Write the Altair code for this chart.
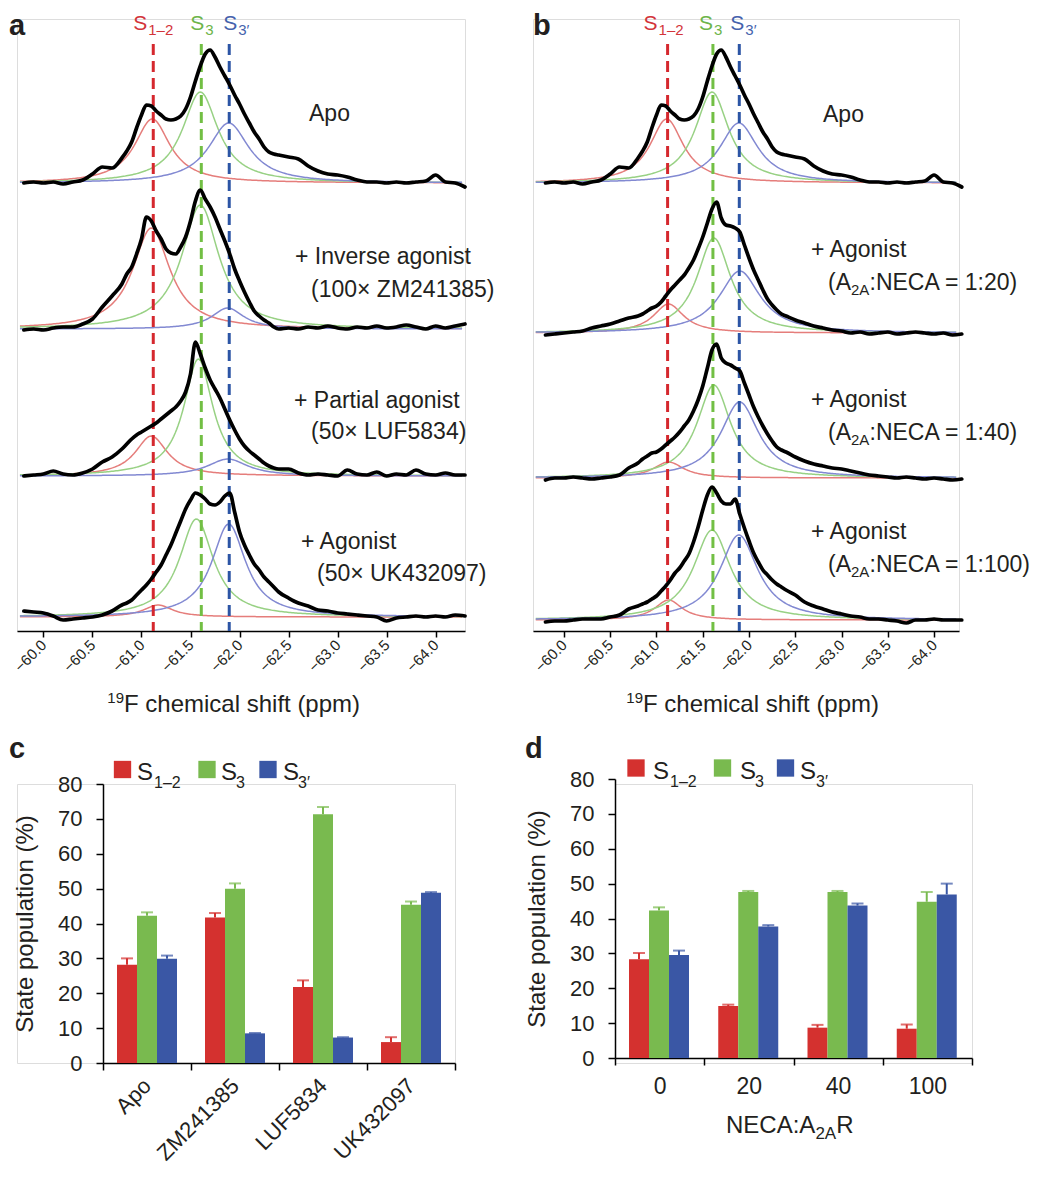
import altair as alt
import numpy as np
import pandas as pd

FONT = "Liberation Sans"
INK = "#231f20"

# ---------------- chemical-shift grid (ppm) at which the black spectra were read ----------------
ppm = [-59.8, -59.9, -60.0, -60.1, -60.2, -60.3, -60.4, -60.5, -60.6, -60.7,
       -60.8, -60.85, -60.9, -60.95, -61.0, -61.05, -61.1, -61.15, -61.2, -61.25,
       -61.3, -61.35, -61.4, -61.45, -61.5, -61.55, -61.6, -61.65, -61.7, -61.75,
       -61.8, -61.85, -61.9, -61.95, -62.0, -62.05, -62.1, -62.15, -62.2, -62.25,
       -62.3, -62.35, -62.4, -62.5, -62.6, -62.7, -62.8, -62.9, -63.0, -63.1,
       -63.2, -63.3, -63.4, -63.5, -63.6, -63.7, -63.8, -63.9, -64.0, -64.1,
       -64.2, -64.3]

# ---------------- black spectra: height above their own baseline ----------------
spec_apo = [0, 1, 0, 1, -1, 1, 3, 9, 16, 15,
            25, 32, 41, 55, 68, 78, 77, 72, 68, 64,
            63, 64, 67, 74, 86, 102, 117, 129, 133, 126,
            116, 107, 98, 88, 79, 69, 60, 51, 44, 36,
            31, 29, 28, 26, 24, 17, 12, 9, 8, 6,
            3, 1, 1, 0, 1, 0, 1, 2, 8, 1,
            0, -4]
spec_zm = [-1, 0, -1, 1, 2, 2, 5, 10, 22, 33,
           45, 55, 62, 75, 90, 112, 108, 98, 90, 80,
           76, 75, 82, 92, 108, 128, 139, 130, 122, 112,
           100, 88, 75, 60, 48, 37, 27, 18, 13, 9,
           6, 2, 0, 1, 0, 2, 1, 3, 1, 0,
           2, 1, 3, 1, 2, 4, 2, 0, 3, 1,
           3, 5]
spec_luf = [0, 1, 2, 5, 2, 1, 3, 7, 14, 19,
            27, 32, 37, 41, 44, 47, 50, 53, 57, 61,
            65, 69, 75, 84, 102, 134, 122, 108, 96, 87,
            78, 67, 56, 46, 37, 30, 25, 21, 17, 13,
            10, 8, 7, 7, 3, 1, 2, 1, 0, 6,
            2, 1, 4, 0, 2, 1, 6, 2, 1, 3,
            1, 1]
spec_uk = [6, 5, 4, 1, -3, -2, -1, 0, 2, 6,
           12, 14, 17, 22, 27, 32, 38, 45, 52, 62,
           72, 84, 96, 108, 117, 124, 122, 118, 113, 112,
           115, 121, 124, 105, 85, 72, 62, 53, 47, 40,
           35, 30, 25, 19, 14, 11, 7, 6, 4, 3,
           2, 1, 0, -4, -1, 0, 1, 0, 1, 0,
           2, 1]
spec_neca20 = [-2, -1, 0, 1, 2, 5, 7, 9, 12, 15,
               17, 19, 22, 25, 27, 31, 37, 43, 48, 53,
               58, 65, 73, 84, 96, 110, 124, 131, 115, 108,
               107, 105, 101, 88, 75, 63, 53, 43, 34, 28,
               23, 19, 17, 13, 10, 7, 5, 3, 2, 0,
               1, -1, 0, 1, -1, 0, 1, 0, -1, 0,
               -2, -1]
spec_neca40 = [-2, 0, 0, 1, 0, -1, 0, 1, 3, 10,
               15, 19, 22, 25, 26, 29, 33, 37, 41, 46,
               52, 58, 67, 78, 92, 110, 128, 134, 120, 115,
               113, 110, 107, 95, 83, 71, 61, 52, 44, 37,
               31, 28, 26, 21, 17, 14, 12, 10, 9, 7,
               5, 3, 2, 1, 0, 1, 0, -1, 0, -1,
               -2, -1]
spec_neca100 = [-2, -1, -1, 0, 1, 1, 1, 3, 5, 11,
                14, 16, 18, 21, 24, 29, 34, 40, 47, 52,
                59, 66, 78, 93, 110, 125, 133, 127, 119, 116,
                116, 121, 106, 92, 79, 67, 58, 50, 45, 40,
                36, 33, 30, 25, 18, 14, 11, 8, 6, 4,
                3, 1, 1, 0, -1, -3, 0, 0, 1, 0,
                0, 0]

# ---------------- Lorentzian fit components ----------------
# (centre ppm, peak height, half-width ppm) for S1-2, S3, S3'
fit_apo = [(-61.11, 64, 0.22), (-61.60, 91, 0.22), (-61.89, 60, 0.25)]
fit_zm = [(-61.10, 101, 0.23), (-61.60, 124, 0.23), (-61.88, 21, 0.20)]
fit_luf = [(-61.10, 40, 0.20), (-61.58, 117, 0.18), (-61.88, 17, 0.25)]
fit_uk = [(-61.17, 12, 0.18), (-61.56, 98, 0.21), (-61.89, 93, 0.21)]
fit_neca20 = [(-61.13, 29, 0.20), (-61.62, 95, 0.22), (-61.90, 62, 0.27)]
fit_neca40 = [(-61.13, 16, 0.20), (-61.62, 93, 0.22), (-61.90, 76, 0.25)]
fit_neca100 = [(-61.13, 20, 0.18), (-61.60, 90, 0.24), (-61.89, 85, 0.25)]

# ---------------- states ----------------
state_keys = ["S12", "S3", "S3p"]
state_shift = [-61.12, -61.61, -61.895]
state_sub = ["1–2", "3", "3′"]
state_names = ["S1–2", "S3", "S3′"]
ticks_ppm = [-60.0, -60.5, -61.0, -61.5, -62.0, -62.5, -63.0, -63.5, -64.0]

# ---------------- bar data (panel c) ----------------
groups_c = ["Apo", "ZM241385", "LUF5834", "UK432097"]
c_s12 = [28.2, 41.7, 21.8, 6.0]
c_s12_err = [1.8, 1.3, 1.9, 1.4]
c_s3 = [42.2, 50.0, 71.3, 45.4]
c_s3_err = [1.0, 1.5, 2.1, 0.9]
c_s3p = [29.9, 8.5, 7.3, 48.8]
c_s3p_err = [0.9, 0.1, 0.1, 0.2]

# ---------------- bar data (panel d) ----------------
groups_d = ["0", "20", "40", "100"]
d_s12 = [28.3, 14.9, 8.7, 8.4]
d_s12_err = [1.8, 0.4, 0.8, 1.2]
d_s3 = [42.3, 47.6, 47.6, 44.8]
d_s3_err = [0.9, 0.3, 0.3, 2.8]
d_s3p = [29.5, 37.7, 43.7, 46.9]
d_s3p_err = [1.3, 0.4, 0.6, 3.1]

# ---------------- styles ----------------
FIT_COL = {"S12": "#e57d7b", "S3": "#98d184", "S3p": "#8289d2"}
DASH_COL = {"S12": "#d5282e", "S3": "#72bf44", "S3p": "#2c55a5"}
LBL_COL = {"S12": "#d3343a", "S3": "#6db54a", "S3p": "#4562ad"}
BAR_COL = ["#d4312f", "#79ba4f", "#3a57a5"]

SPEC_H = 612
BAR_H = 279
ONE = pd.DataFrame({"k": [0]})


def text_layer(s, x, y, size, color=INK, align="left", weight="normal"):
    return alt.Chart(ONE).mark_text(
        text=s, font=FONT, fontSize=size, color=color, align=align,
        baseline="alphabetic", fontWeight=weight
    ).encode(x=alt.value(x), y=alt.value(y))


def square_layer(cx, cy, color):
    return alt.Chart(ONE).mark_square(size=300, color=color, opacity=1).encode(
        x=alt.value(cx), y=alt.value(cy))


def spec_axis():
    return alt.Axis(values=ticks_ppm,
                    labelExpr="replace(format(datum.value, '.1f'), '-', '–')",
                    labelAngle=-45, labelAlign="right", labelBaseline="middle",
                    labelFont=FONT, labelFontSize=15, labelColor=INK, labelPadding=5,
                    labelOverlap=False, labelFlush=False,
                    tickSize=6, tickWidth=1.5, tickColor="black",
                    domainColor="black", domainWidth=1.5, grid=False, title=None)


def spectrum_panel(width, dom, spectra, fits, offsets, s_dx, letter, letter_x, notes, title_x):
    xsc = alt.Scale(domain=dom, reverse=True, nice=False, zero=False)
    ysc = alt.Scale(domain=[0, SPEC_H], nice=False, zero=False)
    X = alt.X("ppm:Q", scale=xsc, axis=spec_axis())
    Y = alt.Y("y:Q", scale=ysc, axis=None)
    layers = []
    grid = np.linspace(dom[1] - 0.03, dom[0] + 0.03, 300)
    for k, key in enumerate(state_keys):
        rows = []
        for j, (fit, off) in enumerate(zip(fits, offsets)):
            c, h, w = fit[k]
            for g in grid:
                rows.append({"ppm": float(g), "y": off + h / (1 + ((g - c) / w) ** 2), "spec": j})
        layers.append(alt.Chart(pd.DataFrame(rows)).mark_line(
            color=FIT_COL[key], strokeWidth=1.5).encode(
            x=X, y=Y, detail="spec:N", order=alt.Order("ppm:Q", sort="descending")))
    for k, key in enumerate(state_keys):
        d = pd.DataFrame({"ppm": [state_shift[k]]})
        layers.append(alt.Chart(d).mark_rule(
            color=DASH_COL[key], strokeWidth=3, strokeDash=[11, 6]).encode(
            x=X, y=alt.value(25), y2=alt.value(SPEC_H)))
    rows = []
    for j, (vals, off) in enumerate(zip(spectra, offsets)):
        for p, v in zip(ppm, vals):
            rows.append({"ppm": p, "y": off + v, "spec": j})
    layers.append(alt.Chart(pd.DataFrame(rows)).mark_line(
        color="black", strokeWidth=3.7, interpolate="monotone",
        strokeJoin="round", strokeCap="round").encode(
        x=X, y=Y, detail="spec:N", order=alt.Order("ppm:Q", sort="descending")))
    for k, key in enumerate(state_keys):
        d = pd.DataFrame({"ppm": [state_shift[k]]})
        layers.append(alt.Chart(d).mark_text(
            text="S", font=FONT, fontSize=21, color=LBL_COL[key], align="right",
            baseline="alphabetic", dx=s_dx[k]).encode(x=X, y=alt.value(10.5)))
        layers.append(alt.Chart(d).mark_text(
            text=state_sub[k], font=FONT, fontSize=15, color=LBL_COL[key], align="left",
            baseline="alphabetic", dx=s_dx[k] + 1).encode(x=X, y=alt.value(15.5)))
    for n in notes:
        layers.append(text_layer(*n))
    layers.append(text_layer(letter, letter_x, 15.5, 29, weight="bold"))
    layers.append(text_layer("19", title_x, 684, 15, align="right"))
    layers.append(text_layer("F chemical shift (ppm)", title_x, 693, 24))
    return alt.layer(*layers).properties(width=width, height=SPEC_H)


panel_a = spectrum_panel(
    448, [-64.30, -59.73],
    [spec_apo, spec_zm, spec_luf, spec_uk],
    [fit_apo, fit_zm, fit_luf, fit_uk],
    [448, 302, 155, 14], [-6, 3, 8], "a", -8,
    [("Apo", 292, 102, 23),
     ("+ Inverse agonist", 278, 245, 23),
     ("(100× ZM241385)", 294, 278, 23),
     ("+ Partial agonist", 277, 389, 23),
     ("(50× LUF5834)", 294, 420, 23),
     ("+ Agonist", 284, 530, 23),
     ("(50× UK432097)", 300, 562, 23)],
    107)

b_notes = [("Apo", 290, 103, 23)]
for yy, ratio in [(238, "1:20"), (388, "1:40"), (520, "1:100")]:
    b_notes.append(("+ Agonist", 278, yy, 23))
    b_notes.append(("(A", 295, yy + 33, 23))
    b_notes.append(("2A", 318, yy + 38, 15))
    b_notes.append((":NECA = " + ratio + ")", 336.5, yy + 33, 23))

panel_b = spectrum_panel(
    426, [-64.27, -59.665],
    [spec_apo, spec_neca20, spec_neca40, spec_neca100],
    [fit_apo, fit_neca20, fit_neca40, fit_neca100],
    [448, 298, 153, 11], [-10, 0, 5], "b", 0,
    b_notes, 110)


def bar_panel(groups, s12, s12e, s3, s3e, s3p, s3pe, width, x_axis, x_range, y_offset,
              y_shift, letter_xy, legend_spec, extra):
    rows = []
    for i, g in enumerate(groups):
        for st, v, e in zip(state_names, [s12[i], s3[i], s3p[i]], [s12e[i], s3e[i], s3pe[i]]):
            rows.append({"group": g, "state": st, "v": v, "top": v + e})
    df = pd.DataFrame(rows)
    if x_range is None:
        xscale = alt.Scale(paddingInner=0, paddingOuter=0)
    else:
        xscale = alt.Scale(paddingInner=0, paddingOuter=0, range=x_range)
    X = alt.X("group:N", sort=groups, scale=xscale, axis=x_axis)
    XO = alt.XOffset("state:N", sort=state_names, scale=alt.Scale(paddingInner=0, paddingOuter=0.7))
    ysc = alt.Scale(domain=[0, 80], nice=False, range=[BAR_H - y_shift, -y_shift])
    y_axis = alt.Axis(values=[0, 10, 20, 30, 40, 50, 60, 70, 80], title="State population (%)",
                      titleFont=FONT, titleFontSize=24, titleFontWeight="normal", titleColor=INK,
                      titlePadding=20, labelFont=FONT, labelFontSize=22, labelColor=INK,
                      labelPadding=14, tickSize=7, tickWidth=1.5, tickColor="black",
                      domainColor="black", domainWidth=1.5, grid=False, offset=y_offset)
    color = alt.Color("state:N", sort=state_names,
                      scale=alt.Scale(domain=state_names, range=BAR_COL), legend=None)
    layers = [alt.Chart(df).mark_bar().encode(
        x=X, xOffset=XO, y=alt.Y("v:Q", scale=ysc, axis=y_axis), color=color)]
    for st, col in zip(state_names, BAR_COL):
        sub = df[df["state"] == st]
        layers.append(alt.Chart(sub).mark_rule(color=col, strokeWidth=2).encode(
            x=X, xOffset=XO, y=alt.Y("v:Q", scale=ysc, axis=y_axis), y2="top:Q"))
        layers.append(alt.Chart(sub).mark_tick(color=col, orient="horizontal", size=12, thickness=2).encode(
            x=X, xOffset=XO, y=alt.Y("top:Q", scale=ysc, axis=y_axis)))
    # legend: coloured squares with "S" and subscript labels
    sq_y, s_base, sub_base, entries = legend_spec
    for (sq_x, s_x, sub_x), col, sub_txt in zip(entries, BAR_COL, state_sub):
        layers.append(square_layer(sq_x, sq_y, col))
        layers.append(text_layer("S", s_x, s_base, 24))
        layers.append(text_layer(sub_txt, sub_x, sub_base, 16))
    layers.append(text_layer(letter_xy[0], letter_xy[1], letter_xy[2], 29, weight="bold"))
    layers.extend(extra)
    return alt.layer(*layers).properties(width=width, height=BAR_H)


def bar_x_axis(angle, offset=0):
    common = dict(tickBand="extent", tickSize=7, tickWidth=1.5, tickColor="black",
                  domainColor="black", domainWidth=1.5, grid=False, title=None,
                  labelFont=FONT, labelColor=INK, labelOverlap=False, offset=offset)
    if angle:
        return alt.Axis(labelAngle=-45, labelAlign="right", labelBaseline="middle",
                        labelFontSize=22, labelPadding=12, **common)
    return alt.Axis(labelAngle=0, labelFontSize=23, labelPadding=10, **common)


# panel c: plot area starts under panel a, bars occupy x 86..438 of it
panel_c = bar_panel(groups_c, c_s12, c_s12_err, c_s3, c_s3_err, c_s3p, c_s3p_err, 438,
                    bar_x_axis(True), [86, 438], -86, 0, ("c", -8, -26),
                    (-14.5, -4, 4, [(105.5, 120, 137), (190, 204, 219), (251, 266, 281)]), [])

# panel d sits 5 px higher than panel c in the figure
d_title = [text_layer("NECA:A", 111, 349, 24),
           text_layer("2A", 200.4, 355, 17),
           text_layer("R", 221.2, 349, 24)]
panel_d = bar_panel(groups_d, d_s12, d_s12_err, d_s3, d_s3_err, d_s3p, d_s3p_err, 357,
                    bar_x_axis(False, -5), None, 0, 5, ("d", -90, -26),
                    (-16, -5, 3, [(21, 38, 55), (107.5, 125, 140), (170.5, 185, 201)]), d_title)

top = alt.hconcat(panel_a, panel_b, spacing=36)
bottom = alt.hconcat(panel_c, panel_d, spacing=67)

chart = alt.vconcat(top, bottom, spacing=16).properties(
    padding={"left": 0, "top": 3, "right": 4, "bottom": 4}
).configure_view(stroke=None).configure(font=FONT)

chart.save("out.html", embed_options={"renderer": "svg", "actions": False})
